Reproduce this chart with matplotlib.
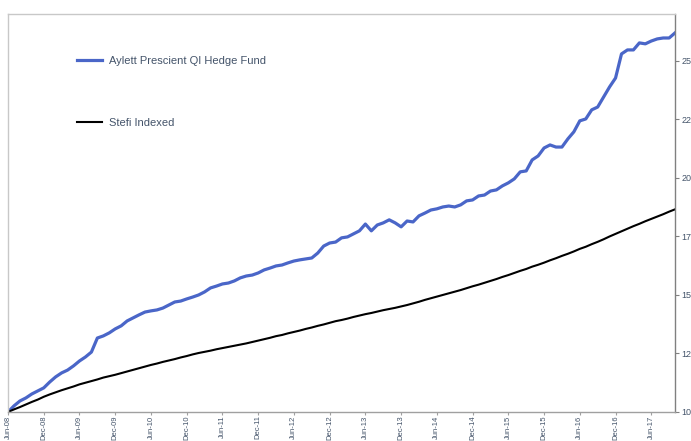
import matplotlib
matplotlib.use('Agg')
import matplotlib.pyplot as plt
import numpy as np
import pandas as pd

# monthly index values, Jun-08 .. Oct-17
months = pd.date_range('2008-06-01', '2017-10-01', freq='MS')

fund = [10.00, 10.26, 10.47, 10.60, 10.77, 10.90, 11.03, 11.28, 11.50, 11.67,
        11.79, 11.97, 12.18, 12.35, 12.56, 13.16, 13.25, 13.38, 13.55, 13.68,
        13.89, 14.02, 14.15, 14.27, 14.32, 14.36, 14.44, 14.57, 14.70, 14.74,
        14.83, 14.91, 15.00, 15.13, 15.30, 15.38, 15.47, 15.51, 15.60, 15.73,
        15.81, 15.85, 15.94, 16.07, 16.15, 16.24, 16.28, 16.37, 16.45, 16.50,
        16.54, 16.58, 16.79, 17.09, 17.22, 17.26, 17.44, 17.48, 17.61, 17.74,
        18.03, 17.74, 17.99, 18.08, 18.21, 18.08, 17.91, 18.16, 18.12, 18.38,
        18.50, 18.63, 18.68, 18.76, 18.80, 18.76, 18.85, 19.02, 19.06, 19.23,
        19.27, 19.44, 19.49, 19.66, 19.79, 19.96, 20.26, 20.30, 20.77, 20.94,
        21.28, 21.41, 21.32, 21.32, 21.67, 21.97, 22.44, 22.52, 22.91, 23.03,
        23.46, 23.89, 24.27, 25.30, 25.47, 25.47, 25.77, 25.73, 25.85, 25.94,
        25.98, 25.98, 26.20]

stefi = [10.00, 10.11, 10.21, 10.32, 10.43, 10.53, 10.65, 10.75, 10.84, 10.93,
         11.01, 11.09, 11.18, 11.25, 11.32, 11.39, 11.47, 11.53, 11.59, 11.66,
         11.73, 11.80, 11.87, 11.94, 12.01, 12.07, 12.14, 12.20, 12.26, 12.33,
         12.39, 12.46, 12.52, 12.57, 12.62, 12.68, 12.73, 12.78, 12.83, 12.88,
         12.93, 12.99, 13.05, 13.11, 13.17, 13.24, 13.29, 13.36, 13.42, 13.48,
         13.55, 13.61, 13.68, 13.74, 13.81, 13.88, 13.93, 13.99, 14.06, 14.12,
         14.18, 14.23, 14.29, 14.35, 14.40, 14.45, 14.51, 14.57, 14.64, 14.71,
         14.79, 14.86, 14.93, 15.00, 15.07, 15.14, 15.21, 15.29, 15.37, 15.44,
         15.52, 15.60, 15.68, 15.77, 15.85, 15.94, 16.03, 16.11, 16.21, 16.29,
         16.38, 16.48, 16.57, 16.67, 16.76, 16.86, 16.97, 17.06, 17.17, 17.27,
         17.38, 17.50, 17.61, 17.72, 17.83, 17.94, 18.04, 18.15, 18.25, 18.35,
         18.45, 18.56, 18.66]

y_ticks = [10, 12.5, 15, 17.5, 20, 22.5, 25]
y_labels = ['10', '12', '15', '17', '20', '22', '25']

label_color = '#44546A'
plt.rcParams['font.family'] = ['Liberation Sans', 'DejaVu Sans']

fig = plt.figure(figsize=(6.91, 4.41), dpi=100)
ax = fig.add_axes([0.0116, 0.0658, 0.9654, 0.9022])

x = np.arange(len(months))
ax.plot(x, fund, color='#4a66c8', lw=2.3, label='Aylett Prescient QI Hedge Fund',
        solid_joinstyle='round')
ax.plot(x, stefi, color='black', lw=1.5, label='Stefi Indexed')

ax.set_xlim(0, len(months) - 1)
ax.set_ylim(10, 27)

# category-style axis: tick every 6 months
xt = x[::6]
ax.set_xticks(xt)
ax.set_xticklabels([m.strftime('%b-%y') for m in months[::6]], rotation=90,
                   fontsize=5.5, color=label_color)

ax.yaxis.tick_right()
ax.set_yticks(y_ticks)
ax.set_yticklabels(y_labels, fontsize=6.5, color=label_color)
ax.tick_params(axis='y', direction='out', length=3, color='#808080', pad=1.5)
ax.tick_params(axis='x', direction='out', length=2, color='#a0a0a0', pad=0.5)

ax.spines['left'].set_color('#c8c8c8')
ax.spines['top'].set_color('#c8c8c8')
ax.spines['right'].set_color('#808080')
ax.spines['bottom'].set_color('#a0a0a0')
for s in ax.spines.values():
    s.set_linewidth(1.0)

leg = ax.legend(loc='upper left', bbox_to_anchor=(0.088, 0.92), frameon=False,
                fontsize=8, labelspacing=4.66, handlelength=2.25, handletextpad=0.63)
for t in leg.get_texts():
    t.set_color(label_color)

fig.savefig('out.png', dpi=100)
